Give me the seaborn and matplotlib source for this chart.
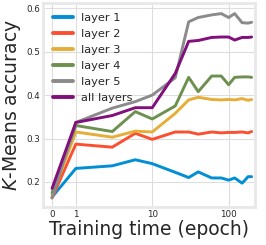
import pandas as pd
import seaborn as sns
import matplotlib.pyplot as plt

# epochs and k-means accuracy per layer
epochs = [0, 1, 3, 6, 10, 20, 30, 40, 60, 80, 100, 120, 150, 180, 200]
layer1 = [0.165, 0.231, 0.237, 0.251, 0.242, 0.222, 0.210, 0.223, 0.209, 0.209, 0.204, 0.209, 0.197, 0.212, 0.212]
layer2 = [0.163, 0.287, 0.280, 0.312, 0.298, 0.315, 0.315, 0.310, 0.315, 0.313, 0.314, 0.314, 0.315, 0.313, 0.316]
layer3 = [0.170, 0.315, 0.303, 0.317, 0.315, 0.358, 0.389, 0.395, 0.390, 0.389, 0.390, 0.389, 0.392, 0.388, 0.390]
layer4 = [0.175, 0.330, 0.316, 0.362, 0.345, 0.375, 0.441, 0.408, 0.444, 0.444, 0.424, 0.441, 0.442, 0.442, 0.441]
layer5 = [0.163, 0.337, 0.370, 0.385, 0.400, 0.440, 0.569, 0.579, 0.585, 0.588, 0.579, 0.588, 0.567, 0.566, 0.568]
all_layers = [0.185, 0.337, 0.353, 0.371, 0.371, 0.450, 0.524, 0.526, 0.533, 0.534, 0.534, 0.527, 0.533, 0.533, 0.534]

names = ["layer 1", "layer 2", "layer 3", "layer 4", "layer 5", "all layers"]
colors = ["#008fd5", "#fc4f30", "#e5ae38", "#6d904f", "#8b8b8b", "#810f7c"]

rows = []
for name, vals in zip(names, [layer1, layer2, layer3, layer4, layer5, all_layers]):
    for e, v in zip(epochs, vals):
        rows.append({"epoch": e, "acc": v, "layer": name})
df = pd.DataFrame(rows)

sns.set_style("whitegrid", {"grid.color": "#dddddd", "axes.edgecolor": "#e8e8e8"})

fig, ax = plt.subplots(figsize=(2.66, 2.45), dpi=100)
fig.subplots_adjust(left=0.16, right=0.959, bottom=0.155, top=0.987)

sns.lineplot(data=df, x="epoch", y="acc", hue="layer", palette=colors,
             linewidth=2.1, ax=ax)

ax.set_xscale("symlog", linthresh=1, linscale=0.28)
ax.set_xlim(-0.4, 222)
ax.set_ylim(0.142, 0.612)
ax.set_xticks([0, 1, 10, 100])
ax.set_xticklabels(["0", "1", "10", "100"])
ax.xaxis.set_minor_locator(plt.NullLocator())
ax.set_yticks([0.2, 0.3, 0.4, 0.5, 0.6])
ax.tick_params(labelsize=6.3, length=0, pad=2)
for s in ax.spines.values():
    s.set_linewidth(2)
    s.set_color("#e8e8e8")

ax.set_xlabel("Training time (epoch)", fontsize=13.5, labelpad=1)
ax.set_ylabel("$K$-Means accuracy", fontsize=13.5, labelpad=2)

leg = ax.legend(loc="upper left", frameon=False, fontsize=8.2,
                handlelength=1.8, handletextpad=0.7, labelspacing=0.52,
                borderaxespad=0.5)
for line in leg.get_lines():
    line.set_linewidth(2.8)

fig.savefig("out.png", dpi=100)
